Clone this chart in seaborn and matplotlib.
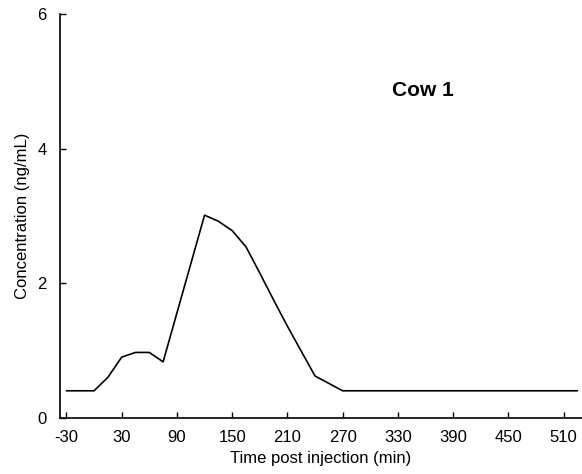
import matplotlib
matplotlib.use("Agg")
import matplotlib.pyplot as plt
import seaborn as sns
import pandas as pd

time_min = [-30, -15, 0, 15, 30, 45, 60, 75, 120, 135, 150, 165, 180, 195, 210,
            225, 240, 255, 270, 285, 300, 315, 330, 345, 360, 375, 390, 405, 420,
            435, 450, 465, 480, 495, 510, 525]
concentration = [0.40, 0.40, 0.40, 0.60, 0.90, 0.97, 0.97, 0.83, 3.01, 2.92, 2.78, 2.54,
                 2.15, 1.75, 1.36, 0.99, 0.62, 0.51, 0.40, 0.40, 0.40, 0.40, 0.40, 0.40,
                 0.40, 0.40, 0.40, 0.40, 0.40, 0.40, 0.40, 0.40, 0.40, 0.40, 0.40, 0.40]
x_ticks = [-30, 30, 90, 150, 210, 270, 330, 390, 450, 510]
y_ticks = [0, 2, 4, 6]
label_text = "Cow 1"

df = pd.DataFrame({"time": time_min, "conc": concentration})

sns.set_theme(style="ticks")
plt.rcParams["font.family"] = ["Liberation Sans", "DejaVu Sans"]
plt.rcParams["axes.unicode_minus"] = False
plt.rcParams["text.color"] = "black"
plt.rcParams["axes.labelcolor"] = "black"
plt.rcParams["xtick.direction"] = "in"
plt.rcParams["ytick.direction"] = "in"

fig = plt.figure(figsize=(5.82, 4.74), dpi=100)
ax = fig.add_axes([60/582, 56.3/474, 1 - 60/582, 403.7/474])

sns.lineplot(data=df, x="time", y="conc", ax=ax, color="black", linewidth=1.2)

ax.set_xlim(-37, 530)
ax.set_ylim(0, 6)
ax.set_xticks(x_ticks)
ax.set_yticks(y_ticks)
ax.tick_params(direction="in", length=4.5, width=1, labelsize=12, colors="black")
ax.tick_params(axis="x", pad=8.5)
ax.tick_params(axis="y", pad=9.5)
ax.set_xlabel("Time post injection (min)", fontsize=12, labelpad=4.5)
ax.set_ylabel("Concentration (ng/mL)", fontsize=12, labelpad=5.5)
for s in ["top", "right"]:
    ax.spines[s].set_visible(False)
for s in ["left", "bottom"]:
    ax.spines[s].set_linewidth(1.2)
    ax.spines[s].set_color("black")

ax.text(357.5, 4.87, label_text, fontsize=15, fontweight="bold", ha="center", va="center")

fig.savefig("out.png", dpi=100)
